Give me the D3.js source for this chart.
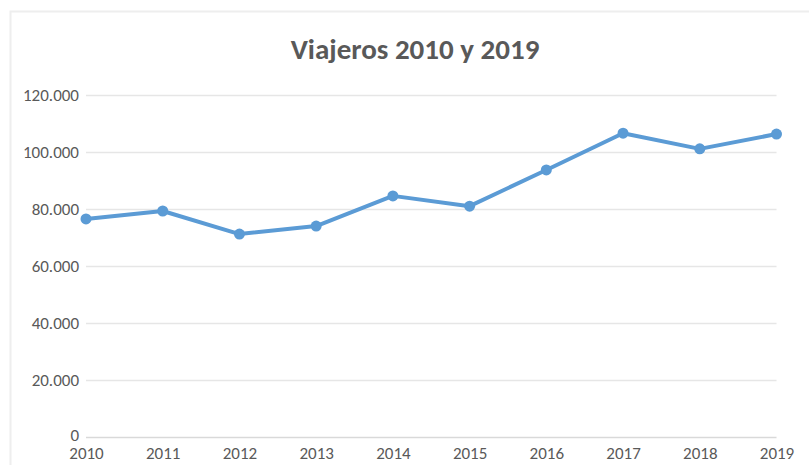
<!DOCTYPE html>
<html><head><meta charset="utf-8">
<script src="https://cdn.jsdelivr.net/npm/d3@7"></script>
<style>
html,body{margin:0;padding:0;background:#fff;}
svg{display:block;}
</style></head>
<body>
<svg id="chart" width="809" height="465"></svg>
<script>
const years = ["2010","2011","2012","2013","2014","2015","2016","2017","2018","2019"];
const viajeros = [76500, 79300, 71200, 74000, 84600, 81000, 93700, 106600, 101100, 106300];
const yTicks = [0, 20000, 40000, 60000, 80000, 100000, 120000];
const title = "Viajeros 2010 y 2019";

(function () {
const svg = d3.select("#chart");
const W = 809, H = 465;
svg.append("rect").attr("width", W).attr("height", H).attr("fill", "#fff");
// chart area border
svg.append("path").attr("d", "M10.5,465 V11.5 H809")
  .attr("fill", "none").attr("stroke", "#eeeeee").attr("stroke-width", 2);

const mLeft = 86, mRight = 776.5, mTop = 95, mBottom = 437;
const x = d3.scalePoint().domain(years).range([mLeft, mRight]);
const y = d3.scaleLinear().domain([0, 120000]).range([mBottom, mTop]);
const fmt = v => v === 0 ? "0" : d3.format(",")(v).replace(/,/g, ".");

const font = "Carlito, 'Open Sans', 'Liberation Sans', sans-serif";

svg.append("text").attr("x", 415).attr("y", 59).attr("text-anchor", "middle")
  .attr("font-family", font).attr("font-weight", 700).attr("font-size", 29)
  .attr("fill", "#595959").text(title);

// gridlines
svg.append("g").selectAll("line").data(yTicks).join("line")
  .attr("x1", mLeft).attr("x2", mRight)
  .attr("y1", d => y(d) + 0.5).attr("y2", d => y(d) + 0.5)
  .attr("stroke", d => d === 0 ? "#d9d9d9" : "#e6e6e6").attr("stroke-width", 1.5);

// y axis labels
const yAxis = d3.axisLeft(y).tickValues(yTicks).tickFormat(fmt).tickSize(0).tickPadding(7);
const gy = svg.append("g").attr("transform", `translate(${mLeft},0)`).call(yAxis);
gy.select(".domain").remove();
gy.selectAll("text").attr("font-family", font).attr("font-size", 17).attr("fill", "#595959")
  .attr("dy", d => d === 0 ? "0.18em" : "0.3em");

// x axis labels
const xAxis = d3.axisBottom(x).tickSize(0).tickPadding(10);
const gx = svg.append("g").attr("transform", `translate(0,${mBottom})`).call(xAxis);
gx.select(".domain").remove();
gx.selectAll("text").attr("font-family", font).attr("font-size", 17).attr("fill", "#595959");

// line
const line = d3.line().x((d, i) => x(years[i])).y(d => y(d));
svg.append("path").datum(viajeros).attr("d", line)
  .attr("fill", "none").attr("stroke", "#5B9BD5").attr("stroke-width", 4)
  .attr("stroke-linejoin", "round").attr("stroke-linecap", "round");
svg.append("g").selectAll("circle").data(viajeros).join("circle")
  .attr("cx", (d, i) => x(years[i])).attr("cy", d => y(d)).attr("r", 5.5)
  .attr("fill", "#5B9BD5");
})();
</script>
</body></html>
